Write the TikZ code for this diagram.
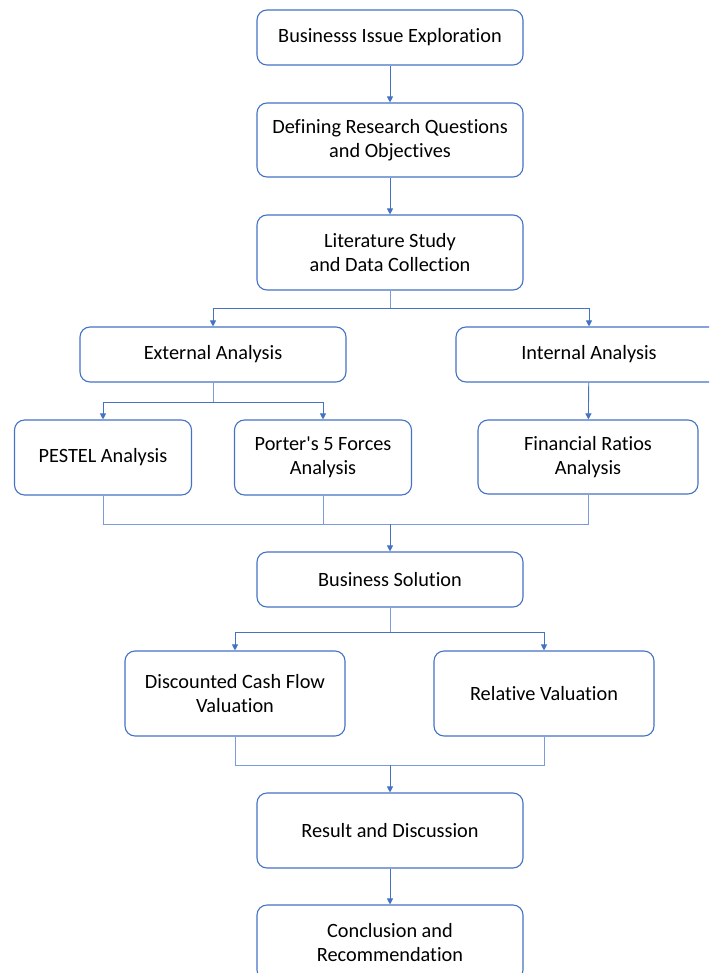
\documentclass[tikz,border=0pt]{standalone}
\usepackage{fontspec}
\setmainfont{Carlito}[Ligatures={TeXOff,NoCommon}]
\usetikzlibrary{arrows.meta}

\definecolor{boxblue}{HTML}{4472C4}

\tikzset{
  stage/.style={draw=boxblue, line width=1.1pt, rounded corners=10pt, fill=white,
    align=center, minimum width=266pt, minimum height=55pt,
    font=\fontsize{20.3}{24.5}\selectfont},
  flow/.style={draw=boxblue, line width=0.9pt, -{Triangle[length=6pt,width=6pt]}},
  link/.style={draw=boxblue!70, line width=0.9pt}
}

\begin{document}
\begin{tikzpicture}[x=1pt, y=-1pt]
        \useasboundingbox (0,0) rectangle (709,973);
        \begin{scope}
        \clip (0,0) rectangle (709,973);

        \node[stage] (issue) at (390, 37.5) {Businesss Issue Exploration};
        \node[stage, minimum height=74pt] (quest) at (390, 140) {Defining Research Questions\\and Objectives};
        \node[stage, minimum height=75pt] (lit) at (390, 252.5) {Literature Study\\and Data Collection};

        \node[stage] (ext) at (213, 354.5) {External Analysis};
        \node[stage] (int) at (589, 354.5) {Internal Analysis};

        \node[stage, minimum width=177pt, minimum height=75pt] (pestel) at (103, 457.5) {PESTEL Analysis};
        \node[stage, minimum width=177pt, minimum height=75pt] (porter) at (323, 457.5) {Porter's 5 Forces\\Analysis};
        \node[stage, minimum width=220pt, minimum height=74pt] (fin) at (588, 457) {Financial Ratios\\Analysis};

        \node[stage] (sol) at (390, 579.5) {Business Solution};

        \node[stage, minimum width=220pt, minimum height=85pt] (dcf) at (235, 693.5) {Discounted Cash Flow\\Valuation};
        \node[stage, minimum width=220pt, minimum height=85pt] (rel) at (544, 693.5) {Relative Valuation};

        \node[stage, minimum height=75pt] (res) at (390, 830.5) {Result and Discussion};
        \node[stage, minimum height=75pt] (concl) at (390, 942.5) {Conclusion and\\Recommendation};

        % joining points
        \coordinate (split1) at (390, 308);
        \coordinate (split2) at (213, 402);
        \coordinate (merge1) at (390, 524);
        \coordinate (split3) at (390, 632);
        \coordinate (merge2) at (390, 765);

        \draw[flow] (issue) -- (quest);
        \draw[flow] (quest) -- (lit);

        \draw[link] (lit.south) -- (split1);
        \draw[flow] (split1) -| (ext.north);
        \draw[flow] (split1) -| (int.north);

        \draw[link] (ext.south) -- (split2);
        \draw[flow] (split2) -| (pestel.north);
        \draw[flow] (split2) -| (porter.north);
        \draw[flow] (int) -- (fin);

        \draw[link] (pestel.south) |- (merge1);
        \draw[link] (porter.south) |- (merge1);
        \draw[link] (fin.south) |- (merge1);
        \draw[flow] (merge1) -- (sol.north);

        \draw[link] (sol.south) -- (split3);
        \draw[flow] (split3) -| (dcf.north);
        \draw[flow] (split3) -| (rel.north);

        \draw[link] (dcf.south) |- (merge2);
        \draw[link] (rel.south) |- (merge2);
        \draw[flow] (merge2) -- (res.north);

        \draw[flow] (res) -- (concl);
        \end{scope}
\end{tikzpicture}
\end{document}
